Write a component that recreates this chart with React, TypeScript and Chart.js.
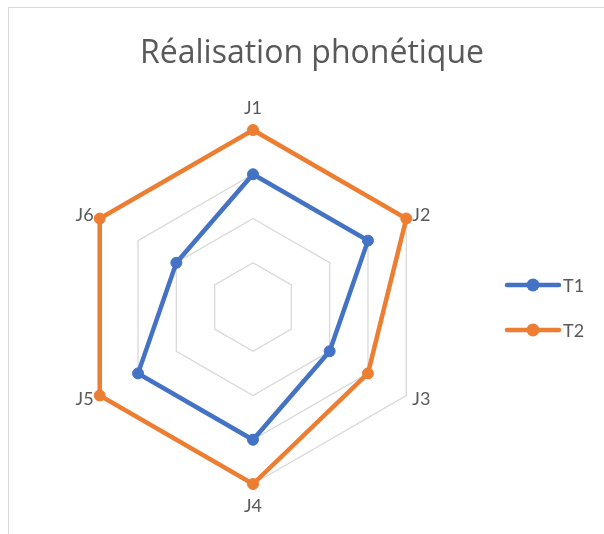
import React, { useEffect, useRef } from "react";
import { Chart, registerables } from "chart.js";

Chart.register(...registerables);

const TITLE = "Réalisation phonétique";
const CATEGORIES = ["J1", "J2", "J3", "J4", "J5", "J6"];
const SERIES_NAMES = ["T1", "T2"];
const T1_VALUES = [3, 3, 2, 3, 3, 2];
const T2_VALUES = [4, 4, 3, 4, 4, 4];
const COLORS = ["#4472C4", "#ED7D31"];
const SCALE_MAX = 4;
const SCALE_STEP = 1;

const FONT = "Lato, 'Open Sans', sans-serif";
const TITLE_FONT = "'Open Sans', Lato, sans-serif";
const TEXT_COLOR = "#595959";

const overlayPlugin = {
  id: "overlay",
  afterDraw(chart: any) {
    const ctx = chart.ctx;
    const scale = chart.scales.r;
    ctx.save();
    // title
    ctx.fillStyle = TEXT_COLOR;
    ctx.font = `32px ${TITLE_FONT}`;
    ctx.textAlign = "center";
    ctx.textBaseline = "alphabetic";
    ctx.fillText(TITLE, 312, 63);

    // point labels
    ctx.font = `18px ${FONT}`;
    ctx.textBaseline = "middle";
    const labels = chart.data.labels as string[];
    const n = labels.length;
    labels.forEach((lab, i) => {
      const angleDeg = (360 / n) * i;
      const isVertical = angleDeg % 180 === 0;
      const pos = scale.getPointPosition(i, scale.drawingArea + (isVertical ? 22 : 7));
      if (isVertical) ctx.textAlign = "center";
      else if (angleDeg < 180) ctx.textAlign = "left";
      else ctx.textAlign = "right";
      ctx.fillText(lab, pos.x, pos.y);
    });

    // legend
    ctx.font = `18px ${FONT}`;
    ctx.textAlign = "left";
    chart.data.datasets.forEach((ds: any, i: number) => {
      const y = 285 + i * 45;
      ctx.strokeStyle = ds.borderColor;
      ctx.lineWidth = 4.5;
      ctx.lineCap = "round";
      ctx.beginPath();
      ctx.moveTo(507, y);
      ctx.lineTo(559, y);
      ctx.stroke();
      ctx.fillStyle = ds.borderColor;
      ctx.beginPath();
      ctx.arc(533, y, 6.5, 0, Math.PI * 2);
      ctx.fill();
      ctx.fillStyle = TEXT_COLOR;
      ctx.fillText(ds.label, 563, y + 1);
    });
    ctx.restore();
  },
};

export default function App() {
  const canvasRef = useRef<HTMLCanvasElement | null>(null);

  useEffect(() => {
    if (!canvasRef.current) return;
    const chart = new Chart(canvasRef.current, {
      type: "radar",
      data: {
        labels: CATEGORIES,
        datasets: [
          {
            label: SERIES_NAMES[0],
            data: T1_VALUES,
            borderColor: COLORS[0],
            backgroundColor: COLORS[0],
            pointBackgroundColor: COLORS[0],
            pointBorderColor: COLORS[0],
            borderWidth: 4.5,
            pointRadius: 5.5,
            pointBorderWidth: 1,
            fill: false,
          },
          {
            label: SERIES_NAMES[1],
            data: T2_VALUES,
            borderColor: COLORS[1],
            backgroundColor: COLORS[1],
            pointBackgroundColor: COLORS[1],
            pointBorderColor: COLORS[1],
            borderWidth: 4.5,
            pointRadius: 5.5,
            pointBorderWidth: 1,
            fill: false,
          },
        ],
      },
      options: {
        animation: false,
        responsive: true,
        maintainAspectRatio: false,
        layout: { padding: { left: 75, right: 173, top: 130, bottom: 49 } },
        plugins: {
          legend: { display: false },
          title: { display: false },
          tooltip: { enabled: false },
        },
        scales: {
          r: {
            min: 0,
            max: SCALE_MAX,
            ticks: { display: false, stepSize: SCALE_STEP },
            grid: { color: "#D9D9D9", lineWidth: 1.3 },
            angleLines: { display: false },
            pointLabels: { display: false },
          },
        },
      },
      plugins: [overlayPlugin],
    });
    return () => chart.destroy();
  }, []);

  return (
    <div
      style={{
        position: "fixed",
        left: 0,
        top: 0,
        width: 604,
        height: 534,
        overflow: "hidden",
        background: "#ffffff",
      }}
    >
      <div
        style={{
          position: "absolute",
          left: 8,
          top: 7,
          width: 700,
          height: 700,
          border: "1px solid #D9D9D9",
        }}
      />
      <div style={{ position: "absolute", left: 0, top: 0, width: 604, height: 534 }}>
        <canvas ref={canvasRef} />
      </div>
    </div>
  );
}
